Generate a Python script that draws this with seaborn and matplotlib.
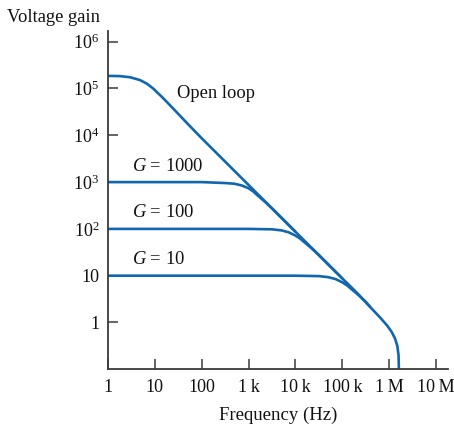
import numpy as np
import pandas as pd
import seaborn as sns
import matplotlib
matplotlib.use("Agg")
import matplotlib.pyplot as plt
from matplotlib.ticker import FixedLocator, NullLocator

# ---- data ----
open_freq = [1, 1.8, 3.0, 4.9, 6.9, 9.3, 15, 25, 50, 100, 1e3, 1e4, 1e5, 2e5, 4e5,
             6.3e5, 8.9e5, 1.12e6, 1.32e6, 1.48e6, 1.57e6, 1.6e6]
open_gain = [186000, 184000, 174000, 151000, 126000, 100000, 63000, 37000, 17800, 8700,
             870, 87, 8.7, 4.4, 2.09, 1.29, 0.87, 0.63, 0.457, 0.316, 0.2, 0.095]

g1000_freq = [1, 100, 316, 500, 708, 1000, 1260, 1580, 2240, 3160, 10000]
g1000_gain = [1000, 1000, 955, 923, 851, 741, 631, 513, 380, 275, 87]

g100_freq = [1, 1000, 3160, 5000, 7080, 10000, 12600, 15800, 22400, 31600, 100000]
g100_gain = [100, 100, 98, 93, 85, 72, 62, 51, 38, 27.5, 8.7]

g10_freq = [1, 1e4, 3.16e4, 5e4, 7.1e4, 1e5, 1.26e5, 1.58e5, 2.24e5, 3.16e5, 4e5]
g10_gain = [10, 10, 9.8, 9.3, 8.5, 7.2, 6.2, 5.1, 3.8, 2.75, 2.09]

x_ticks = [1, 10, 100, 1e3, 1e4, 1e5, 1e6, 1e7]
x_labels = ["1", "10", "100", "1\u2009k", "10\u2009k", "100\u2009k", "1\u2009M", "10\u2009M"]
y_ticks = [1, 10, 100, 1e3, 1e4, 1e5, 1e6]
y_labels = ["1", "10", "$10^{2}$", "$10^{3}$", "$10^{4}$", "$10^{5}$", "$10^{6}$"]

curve_labels = ["Open loop", "$G$ = 1000", "$G$ = 100", "$G$ = 10"]

# ---- style ----
sns.set_theme(style="ticks")
plt.rcParams["font.family"] = ["Liberation Serif", "DejaVu Serif"]
plt.rcParams["mathtext.fontset"] = "custom"
plt.rcParams["mathtext.rm"] = "Liberation Serif"
plt.rcParams["mathtext.it"] = "Liberation Serif:italic"

line_color = "#1166b0"
axis_color = "#3a3a3a"

fig = plt.figure(figsize=(4.54, 4.25), dpi=100)
ax = fig.add_axes([107.7 / 454, 55.7 / 425, 340.6 / 454, 338.6 / 425])

curves = [
    (open_freq, open_gain),
    (g1000_freq, g1000_gain),
    (g100_freq, g100_gain),
    (g10_freq, g10_gain),
]
for fr, gn in curves:
    df = pd.DataFrame({"f": fr, "g": gn})
    sns.lineplot(data=df, x="f", y="g", ax=ax, color=line_color, linewidth=1.9,
                 sort=False, estimator=None, solid_capstyle="butt")

ax.set_xscale("log")
ax.set_yscale("log")
ax.set_xlim(1, 10 ** 7.256)
ax.set_ylim(0.1, 10 ** 6.235)

ax.xaxis.set_major_locator(FixedLocator(x_ticks))
ax.xaxis.set_minor_locator(NullLocator())
ax.yaxis.set_major_locator(FixedLocator(y_ticks))
ax.yaxis.set_minor_locator(NullLocator())
ax.set_xticklabels(x_labels)
ax.set_yticklabels(y_labels)

ax.tick_params(axis="both", direction="in", length=7.5, width=1.1, color=axis_color,
               labelsize=13, labelcolor="#111111")
ax.tick_params(axis="x", pad=7)
ax.tick_params(axis="y", pad=6)

for s in ["top", "right"]:
    ax.spines[s].set_visible(False)
for s in ["left", "bottom"]:
    ax.spines[s].set_color(axis_color)
    ax.spines[s].set_linewidth(1.3)

ax.set_xlabel("Frequency (Hz)", fontsize=13.5, color="#111111", labelpad=8)
ax.set_ylabel("")
fig.text(7 / 454, 1 - 17 / 425, "Voltage gain", fontsize=13.3, color="#111111",
         ha="left", va="center")

# curve annotations
ax.text(30, 7.8e4, curve_labels[0], fontsize=13.3, ha="left", va="center", color="#111111")
ax.text(3.3, 2.2e3, curve_labels[1], fontsize=13.3, ha="left", va="center", color="#111111")
ax.text(3.3, 224, curve_labels[2], fontsize=13.3, ha="left", va="center", color="#111111")
ax.text(3.3, 21.9, curve_labels[3], fontsize=13.3, ha="left", va="center", color="#111111")

fig.savefig("out.png", dpi=100)
